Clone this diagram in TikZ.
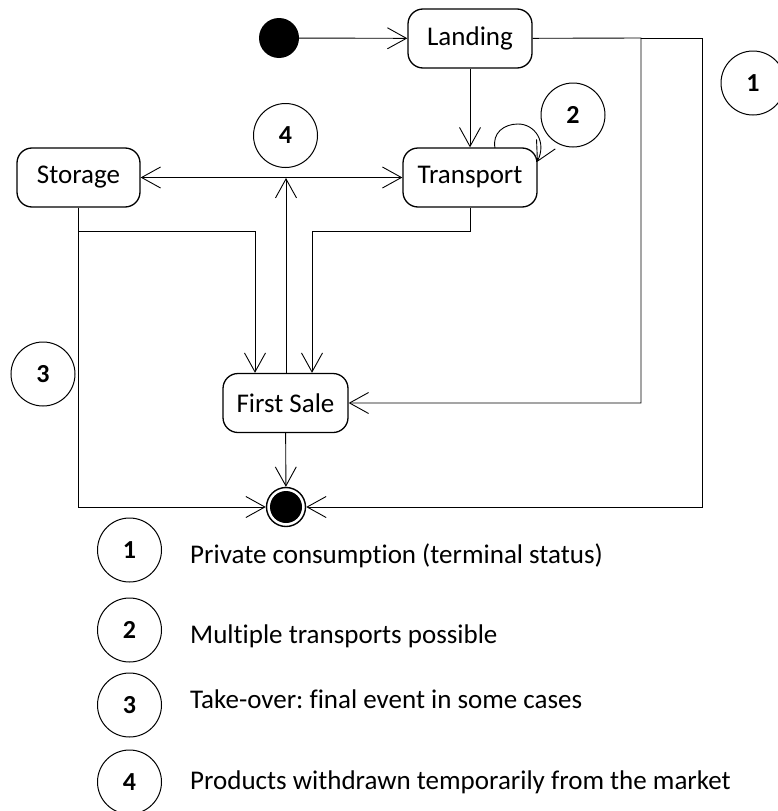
\documentclass[tikz,border=0pt]{standalone}
\usepackage{fontspec}
\setmainfont{Carlito}[Ligatures={NoCommon}]
\usetikzlibrary{arrows.meta}
\frenchspacing
\begin{document}
\begin{tikzpicture}[x=1pt,y=-1pt,
  state/.style={draw,line width=1.3pt,rounded corners=15pt,minimum height=59pt,inner sep=0pt,font=\fontsize{27}{32}\selectfont},
  num/.style={draw,circle,line width=1pt,minimum size=64pt,inner sep=0pt,font=\bfseries\fontsize{26}{30}\selectfont},
  conn/.style={line width=0.9pt},
  arr/.style={conn,-{Straight Barb[length=19pt,width=21pt,line width=0.9pt]}},
  legtext/.style={anchor=base west,inner sep=0pt,font=\fontsize{27}{32}\selectfont}]
\useasboundingbox (0,0) rectangle (778,811);
% states
\node[circle,fill=black,minimum size=40pt,inner sep=0pt] (start) at (279,38) {};
\node[state,minimum width=124pt] (landing) at (470,38.5) {Landing};
\node[state,minimum width=134pt] (transport) at (470,177.5) {Transport};
\node[state,minimum width=123pt] (storage) at (78.5,177.5) {Storage};
\node[state,minimum width=125pt] (firstsale) at (285.5,403) {First Sale};
\node[circle,draw,line width=1.4pt,minimum size=39pt,inner sep=0pt] (final) at (286,507) {};
\fill (final.center) circle (16pt);
% numbered markers
\node[num] (n1) at (753,83) {1};
\node[num] (n2) at (573,115) {2};
\node[num] (n3) at (43,374) {3};
\node[num] (n4) at (285.5,135.5) {4};
% coordinates
\coordinate (jl) at (641,38);
\coordinate (jr) at (702,38);
\coordinate (jlb) at (641,403);
\coordinate (jrb) at (702,507);
\coordinate (junc) at (286,178);
\coordinate (sd) at (78,231);
\coordinate (sb) at (78,507);
\coordinate (sr) at (255,231);
\coordinate (td) at (470,231);
\coordinate (tl) at (312,231);
% connectors
\draw[arr] (start) -- (landing);
\draw[arr] (landing) -- (transport);
\draw[conn,{Straight Barb[length=19pt,width=21pt,line width=0.9pt]}-{Straight Barb[length=19pt,width=21pt,line width=0.9pt]}] (storage) -- (transport);
\draw[arr] (firstsale.north -| junc) -- (junc);
\draw[arr] (storage.south -| sd) -- (sd) -- (sr) -- (firstsale.north -| sr);
\draw[arr] (transport.south -| td) -- (td) -- (tl) -- (firstsale.north -| tl);
\draw[arr] (storage.south -| sd) -- (sb) -- (final);
\draw[arr] (landing) -- (jl) -- (jlb) -- (firstsale);
\draw[arr] (jl) -- (jr) -- (jrb) -- (final);
\draw[arr] (firstsale) -- (final);
\draw[arr] (495,148) .. controls (492,133) and (504,124) .. (518,124) .. controls (535,124) and (547,142) .. (537,162);
% legend
\node[num] (l1) at (129.5,550) {1};
\node[num] (l2) at (129.5,630) {2};
\node[num] (l3) at (129.5,705) {3};
\node[num] (l4) at (129.5,782) {4};
\node[legtext] (t1) at (190,563) {Private consumption (terminal status)};
\node[legtext] (t2) at (190,643) {Multiple transports possible};
\node[legtext] (t3) at (190,708) {Take-over: final event in some cases};
\node[legtext] (t4) at (190,789) {Products withdrawn temporarily from the market};
\end{tikzpicture}
\end{document}
